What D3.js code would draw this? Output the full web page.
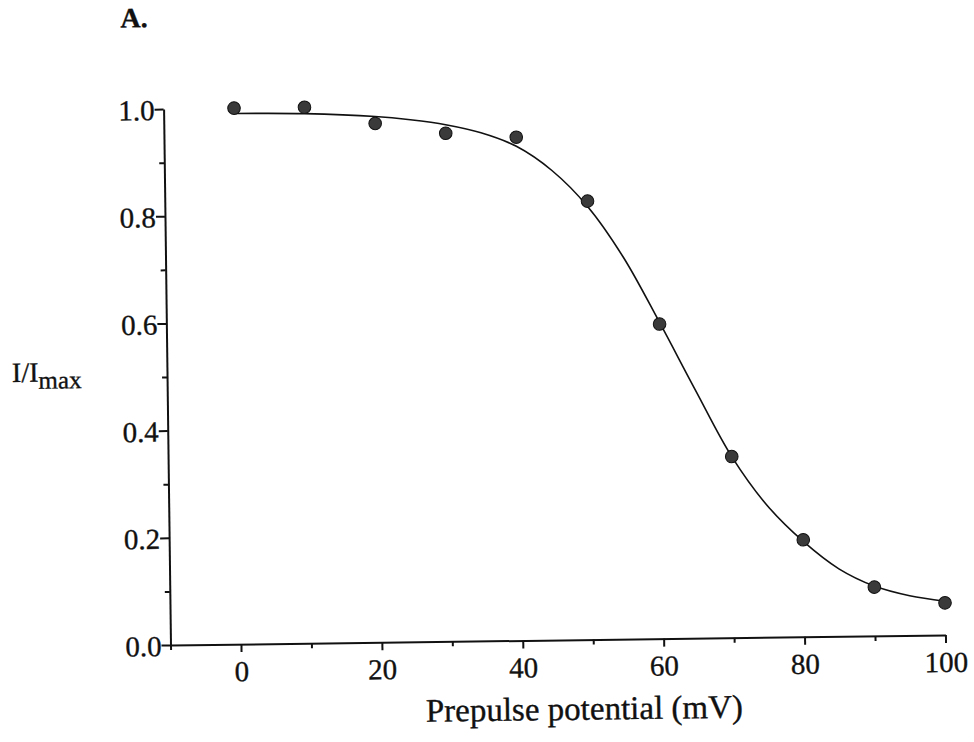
<!DOCTYPE html>
<html>
<head>
<meta charset="utf-8">
<script src="https://cdn.jsdelivr.net/npm/d3@7"></script>
<style>
body { margin: 0; background: #fff; }
text { font-family: "Liberation Serif", "Times New Roman", serif; fill: #111; stroke: #111; stroke-width: 0.35px; }
</style>
</head>
<body>
<svg width="974" height="742"></svg>
<script>
// measured points
var potential = [0, 10, 20, 30, 40, 50, 60, 70, 80, 90, 100];
var current = [1.0, 1.0, 0.968, 0.948, 0.939, 0.818, 0.587, 0.338, 0.181, 0.091, 0.060];

// fitted curve
var fitX = [0, 10, 20, 25, 30, 35, 40, 45, 50, 55, 60, 65, 70, 75, 80, 85, 90, 95, 100];
var fitY = [0.990, 0.988, 0.981, 0.974, 0.964, 0.948, 0.922, 0.876, 0.808, 0.712, 0.590, 0.462, 0.338, 0.245, 0.178, 0.126, 0.093, 0.074, 0.063];

var xTicks = [0, 20, 40, 60, 80, 100];
var xMinor = [-10, 10, 30, 50, 70, 90];
var yTicks = [0, 0.2, 0.4, 0.6, 0.8, 1.0];
var yMinor = [0.1, 0.3, 0.5, 0.7, 0.9];

function main() {
	var svg = d3.select("svg");

	var x = d3.scaleLinear().domain([-10, 100]).range([0, 775]);
	var y = d3.scaleLinear().domain([0, 1]).range([0, -536]);

	// the scanned figure is tilted a little
	var g = svg.append("g").attr("transform", "translate(170.5,645) rotate(-0.74)");

	// x axis
	var xa = g.append("g").call(d3.axisBottom(x).tickValues(xTicks).tickSize(8).tickSizeOuter(0)
		.tickFormat(d3.format("d")));
	g.append("g").call(d3.axisBottom(x).tickValues(xMinor).tickSize(5).tickSizeOuter(0).tickFormat(""))
		.select(".domain").remove();
	xa.selectAll("text").attr("y", 37).attr("dy", null).attr("font-size", "29px")
		.attr("font-family", "Liberation Serif").attr("fill", "#111");

	// y axis
	var ya = g.append("g").call(d3.axisLeft(y).tickValues(yTicks).tickSize(9).tickSizeOuter(0)
		.tickFormat(d3.format(".1f")));
	g.append("g").call(d3.axisLeft(y).tickValues(yMinor).tickSize(5).tickSizeOuter(0).tickFormat(""))
		.select(".domain").remove();
	ya.selectAll("text").attr("x", -9).attr("dy", "0.36em").attr("font-size", "29px")
		.attr("font-family", "Liberation Serif").attr("fill", "#111");

	g.selectAll(".domain").attr("stroke", "#111").attr("stroke-width", 2);
	g.selectAll(".tick line").attr("stroke", "#111").attr("stroke-width", 2);

	// fitted line
	var fit = fitX.map(function(d, i) { return [d, fitY[i]]; });
	var line = d3.line()
		.x(function(d) { return x(d[0]); })
		.y(function(d) { return y(d[1]); })
		.curve(d3.curveCatmullRom.alpha(0.5));
	g.append("path").datum(fit).attr("d", line)
		.attr("fill", "none").attr("stroke", "#111").attr("stroke-width", 1.6);

	// points
	g.selectAll(".dot")
		.data(potential)
		.enter().append("circle")
		.attr("class", "dot")
		.attr("cx", function(d) { return x(d); })
		.attr("cy", function(d, i) { return y(current[i]); })
		.attr("r", 6.3)
		.attr("fill", "#3a3a3a")
		.attr("stroke", "#111")
		.attr("stroke-width", 1);

	// labels
	g.append("text").attr("x", -42).attr("y", -618).attr("font-size", "28px")
		.attr("font-weight", "bold").text("A.");

	var yl = g.append("text").attr("x", -155).attr("y", -265).attr("font-size", "28px");
	yl.append("tspan").text("I/I");
	yl.append("tspan").attr("font-size", "25px").attr("dy", 7).text("max");

	g.append("text").attr("x", 413).attr("y", 80).attr("text-anchor", "middle")
		.attr("font-size", "33px").text("Prepulse potential (mV)");
}

main();
</script>
</body>
</html>
